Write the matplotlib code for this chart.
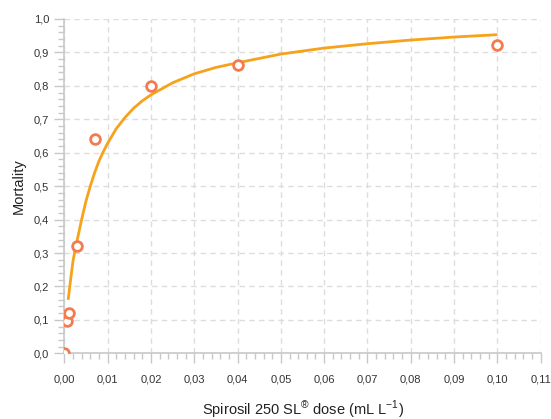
import numpy as np
import matplotlib
matplotlib.use("Agg")
import matplotlib.pyplot as plt
from matplotlib.ticker import MultipleLocator, FuncFormatter

plt.rcParams['font.family'] = ['Liberation Sans', 'DejaVu Sans']
plt.rcParams['mathtext.fontset'] = 'custom'
plt.rcParams['mathtext.rm'] = 'Liberation Sans'

# observed mortality
dose = [0.0, 0.0006, 0.001, 0.003, 0.007, 0.02, 0.04, 0.1]
mortality = [0.0, 0.096, 0.12, 0.32, 0.64, 0.80, 0.862, 0.922]

# fitted curve
curve_dose = [0.0009, 0.0015, 0.002, 0.0025, 0.003, 0.0035, 0.004, 0.005,
              0.006, 0.007, 0.008, 0.009, 0.010, 0.012, 0.014, 0.016, 0.018,
              0.020, 0.025, 0.030, 0.035, 0.040, 0.050, 0.060, 0.070, 0.080,
              0.090, 0.100]
curve_mort = [0.160, 0.225, 0.275, 0.310, 0.340, 0.370, 0.400, 0.455,
              0.500, 0.540, 0.575, 0.603, 0.628, 0.672, 0.705, 0.733, 0.755,
              0.773, 0.809, 0.836, 0.855, 0.869, 0.895, 0.913, 0.926, 0.937,
              0.946, 0.953]

fig = plt.figure(figsize=(5.51, 4.19), dpi=100)
ax = fig.add_axes([0.1167, 0.1568, 0.9813 - 0.1167, 0.9547 - 0.1568])

ax.plot(curve_dose, curve_mort, color='#f7a21b', lw=2, zorder=3,
        solid_joinstyle='round', solid_capstyle='butt')
ax.plot(dose, mortality, 'o', ms=7, mfc='white', mec='#f47a4f', mew=2, zorder=4)

ax.set_xlim(0, 0.11)
ax.set_ylim(0, 1.0)
ax.xaxis.set_major_locator(MultipleLocator(0.01))
ax.xaxis.set_minor_locator(MultipleLocator(0.002))
ax.yaxis.set_major_locator(MultipleLocator(0.1))
ax.yaxis.set_minor_locator(MultipleLocator(0.02))
ax.xaxis.set_major_formatter(FuncFormatter(lambda v, p: f"{v:.2f}".replace('.', ',')))
ax.yaxis.set_major_formatter(FuncFormatter(lambda v, p: f"{v:.1f}".replace('.', ',')))

ax.grid(True, which='major', color='#dddddd', ls=(0, (4, 3)), lw=1)
ax.set_axisbelow(True)
for s in ['top', 'right']:
    ax.spines[s].set_visible(False)
for s in ['left', 'bottom']:
    ax.spines[s].set_color('#c8c8c8')
    ax.spines[s].set_linewidth(1.2)

ax.tick_params(which='major', length=7, width=1, color='#c8c8c8', labelsize=8,
               labelcolor='#333333', pad=4)
ax.tick_params(which='minor', length=4, width=1, color='#c8c8c8')
ax.tick_params(axis='x', which='major', pad=8)

ax.set_ylabel('Mortality', fontsize=10.5, color='#222222', labelpad=6)
ax.set_xlabel(r'Spirosil 250 SL$^{\mathrm{®}}$ dose (mL L$^{\mathrm{-1}}$)',
              fontsize=10.5, color='#222222', labelpad=10)

fig.savefig('out.png', dpi=100)
